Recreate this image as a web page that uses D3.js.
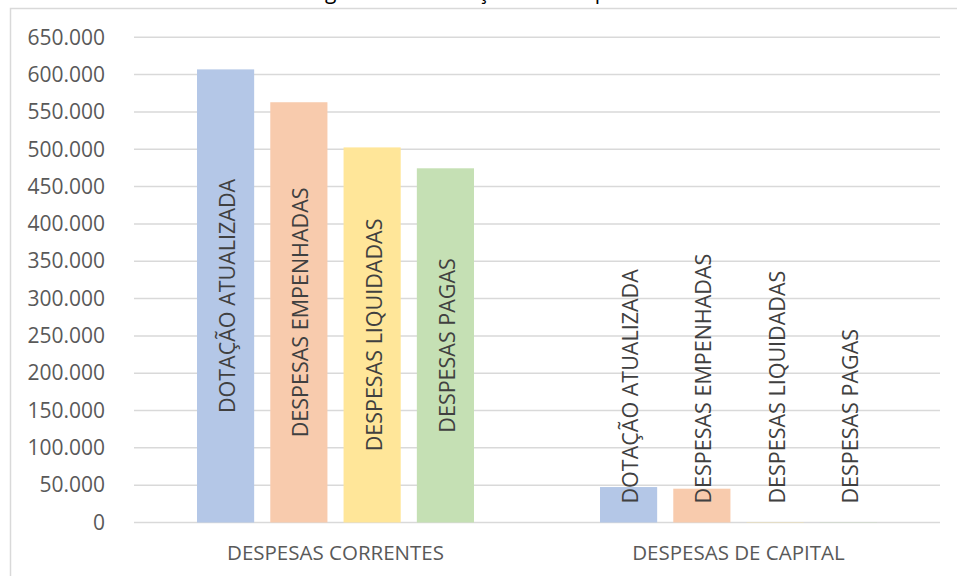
<!DOCTYPE html>
<html>
<head>
<meta charset="utf-8">
<script src="https://cdn.jsdelivr.net/npm/d3@7"></script>
<style>
  body { margin: 0; background: #fff; }
  svg { display: block; font-family: "Open Sans", "Noto Sans", sans-serif; }
</style>
</head>
<body>
<svg id="chart" width="957" height="576"></svg>
<script>
// data
const categories = ["DESPESAS CORRENTES", "DESPESAS DE CAPITAL"];
const seriesNames = ["DOTAÇÃO ATUALIZADA", "DESPESAS EMPENHADAS", "DESPESAS LIQUIDADAS", "DESPESAS PAGAS"];
const seriesColors = ["#b4c7e7", "#f8cbad", "#ffe699", "#c5e0b4"];
const correntes = [607000, 563000, 502500, 474500];
const capital = [47500, 45300, 400, 300];
const yTicks = [0, 50000, 100000, 150000, 200000, 250000, 300000, 350000, 400000, 450000, 500000, 550000, 600000, 650000];
const title = "Figura 10 – Execução das Despesas";

const values = [correntes, capital];
const data = [];
categories.forEach((c, i) => {
  seriesNames.forEach((s, j) => data.push({ cat: c, series: s, value: values[i][j], color: seriesColors[j] }));
});

const svg = d3.select("#chart");
const plotLeft = 134, plotRight = 940, plotTop = 37.3, plotBottom = 522.5;

// chart frame (right and bottom edges fall outside the crop)
svg.append("rect")
  .attr("x", 10.5).attr("y", 8.5)
  .attr("width", 980).attr("height", 600)
  .attr("fill", "none").attr("stroke", "#d9d9d9").attr("stroke-width", 1.5);

// title, mostly cut off at the top like in the source
svg.append("text")
  .attr("x", 480).attr("y", -1)
  .attr("text-anchor", "middle")
  .attr("font-size", 21)
  .attr("fill", "#000")
  .text(title);

const y = d3.scaleLinear().domain([0, 650000]).range([plotBottom, plotTop]);
const x0 = d3.scaleBand().domain(categories).range([plotLeft, plotRight]);
const x1 = d3.scaleBand().domain(seriesNames)
  .range([63, x0.bandwidth() - 63])
  .paddingInner(0.22).paddingOuter(0);

// gridlines
svg.append("g")
  .selectAll("line")
  .data(yTicks)
  .join("line")
  .attr("x1", plotLeft).attr("x2", plotRight)
  .attr("y1", d => y(d)).attr("y2", d => y(d))
  .attr("stroke", "#d9d9d9").attr("stroke-width", 1.5);

// y axis labels
const fmt = d => d === 0 ? "0" : d3.format(",")(d).replace(/,/g, ".");
const yAxis = svg.append("g")
  .attr("transform", "translate(112,0)")
  .call(d3.axisLeft(y).tickValues(yTicks).tickFormat(fmt).tickSize(0).tickPadding(7));
yAxis.select(".domain").remove();
yAxis.selectAll("text")
  .attr("font-family", "Open Sans")
  .attr("font-size", 21)
  .attr("fill", "#595959");

// bars
svg.append("g")
  .selectAll("rect")
  .data(data)
  .join("rect")
  .attr("x", d => x0(d.cat) + x1(d.series))
  .attr("y", d => y(d.value))
  .attr("width", x1.bandwidth())
  .attr("height", d => y(0) - y(d.value))
  .attr("fill", d => d.color);

// series name labels inside the bars
const labels = svg.append("g")
  .selectAll("text")
  .data(data)
  .join("text")
  .attr("text-anchor", "middle")
  .attr("dominant-baseline", "central")
  .attr("font-size", 21.5)
  .attr("fill", "#404040")
  .text(d => d.series);

labels.each(function (d) {
  const len = this.getComputedTextLength();
  const cx = x0(d.cat) + x1(d.series) + x1.bandwidth() / 2 + 1;
  let cy = (y(d.value) + y(0)) / 2;
  if (cy + len / 2 > y(0) - 19) cy = y(0) - 19 - len / 2;
  d3.select(this).attr("transform", `translate(${cx},${cy}) rotate(-90)`);
});

// category labels
svg.append("g")
  .selectAll("text")
  .data(categories)
  .join("text")
  .attr("x", d => x0(d) + x0.bandwidth() / 2)
  .attr("y", 552)
  .attr("text-anchor", "middle")
  .attr("dominant-baseline", "central")
  .attr("font-size", 20.5)
  .attr("fill", "#595959")
  .text(d => d);
</script>
</body>
</html>
